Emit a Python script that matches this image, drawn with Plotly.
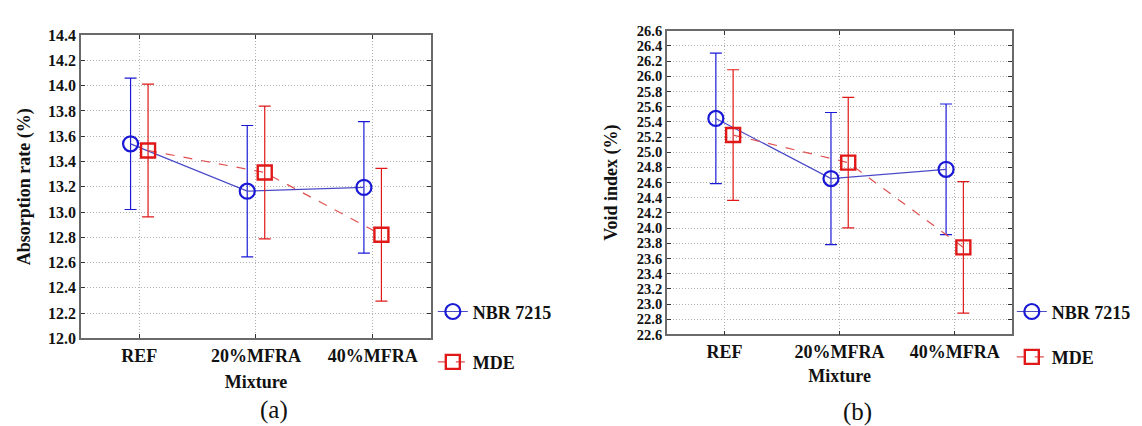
import numpy as np
import plotly.graph_objects as go

categories = ["REF", "20%MFRA", "40%MFRA"]

# (a) Absorption rate (%)
abs_nbr = [13.54, 13.165, 13.195]
abs_nbr_err = [0.52, 0.52, 0.52]
abs_mde = [13.487, 13.313, 12.82]
abs_mde_err = [0.525, 0.525, 0.525]

# (b) Void index (%)
void_nbr = [25.445, 24.653, 24.775]
void_nbr_err = [0.86, 0.87, 0.86]
void_mde = [25.226, 24.863, 23.747]
void_mde_err = [0.86, 0.86, 0.865]

series_names = ["NBR 7215", "MDE"]

BLUE = "#1a1ad6"
BLUE_LINE = "#4a4ac8"
RED = "#e01818"
RED_LINE = "#e05050"
SERIF = "Liberation Serif, Times New Roman, serif"

idx = np.arange(len(categories))
off = 0.075

fig = go.Figure()

def add_pair(nbr, nbr_err, mde, mde_err, xa, ya, legend):
    fig.add_trace(go.Scatter(
        x=idx - off, y=nbr, name=series_names[0], xaxis=xa, yaxis=ya,
        mode="lines+markers", legend=legend, legendgroup=legend + "a",
        line=dict(color=BLUE_LINE, width=1.2),
        marker=dict(symbol="circle-open", size=15, color=BLUE, line=dict(width=2.2, color=BLUE)),
        error_y=dict(type="data", array=nbr_err, visible=True, color=BLUE, thickness=1.2, width=6),
    ))
    fig.add_trace(go.Scatter(
        x=idx + off, y=mde, name=series_names[1], xaxis=xa, yaxis=ya,
        mode="lines+markers", legend=legend, legendgroup=legend + "b",
        line=dict(color=RED_LINE, width=1.2, dash="dash"),
        marker=dict(symbol="square-open", size=14, color=RED, line=dict(width=2.4, color=RED)),
        error_y=dict(type="data", array=mde_err, visible=True, color=RED, thickness=1.2, width=6),
    ))

add_pair(abs_nbr, abs_nbr_err, abs_mde, abs_mde_err, "x", "y", "legend")
add_pair(void_nbr, void_nbr_err, void_mde, void_mde_err, "x2", "y2", "legend2")

def font(size, bold=True):
    d = dict(family=SERIF, size=size, color="#111111")
    if bold:
        d["weight"] = "bold"
    return d

xcommon = dict(
    tickmode="array", tickvals=idx, ticktext=categories, range=[-0.5, 2.5],
    showgrid=True, gridcolor="#b0b0b0", griddash="1px,2px", gridwidth=1,
    showline=True, linecolor="#6a6a6a", linewidth=1.6, mirror="ticks",
    ticks="inside", ticklen=4, tickcolor="#333333", tickwidth=1.2,
    tickfont=font(18), zeroline=False,
)
ycommon = dict(
    showgrid=True, gridcolor="#b0b0b0", griddash="1px,2px", gridwidth=1,
    showline=True, linecolor="#6a6a6a", linewidth=1.6, mirror="ticks",
    ticks="inside", ticklen=4, tickcolor="#333333", tickwidth=1.2,
    zeroline=False, tickformat=".1f", dtick=0.2,
)

fig.update_layout(
    width=1142, height=426,
    margin=dict(l=0, r=0, t=0, b=0),
    paper_bgcolor="white", plot_bgcolor="white",
    showlegend=True,
    xaxis=dict(domain=[0.0639, 0.3704], anchor="y",
               title=dict(text="Mixture", font=font(18), standoff=11), **xcommon),
    yaxis=dict(domain=[0.212, 0.953], anchor="x", range=[12.0, 14.4], tickfont=font(16),
               title=dict(text="Absorption rate (%)", font=font(18), standoff=13), **ycommon),
    xaxis2=dict(domain=[0.577, 0.8794], anchor="y2",
                title=dict(text="Mixture", font=font(18), standoff=9), **xcommon),
    yaxis2=dict(domain=[0.2214, 0.964], anchor="x2", range=[22.6, 26.6], tickfont=font(14.5),
                title=dict(text="Void index (%)", font=font(18), standoff=15), **ycommon),
    legend=dict(x=0.372, y=0.322, xanchor="left", yanchor="top", tracegroupgap=24,
                font=font(18), bgcolor="rgba(0,0,0,0)"),
    legend2=dict(x=0.879, y=0.322, xanchor="left", yanchor="top", tracegroupgap=19,
                 font=font(18), bgcolor="rgba(0,0,0,0)"),
    annotations=[
        dict(text="(a)", x=266 / 1142, y=1 - 410 / 426, xref="paper", yref="paper", showarrow=False,
             yanchor="middle", xanchor="center", font=font(25, bold=False)),
        dict(text="(b)", x=849 / 1142, y=1 - 412 / 426, xref="paper", yref="paper", showarrow=False,
             yanchor="middle", xanchor="center", font=font(25, bold=False)),
    ],
)

fig.write_html("out.html")
